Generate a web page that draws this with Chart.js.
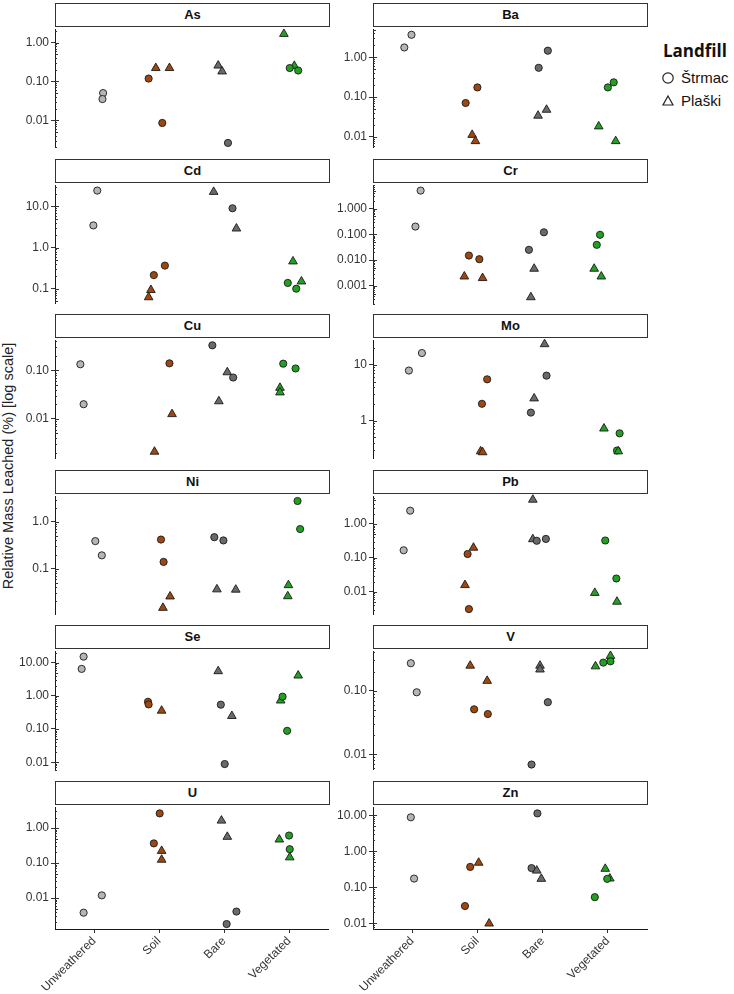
<!DOCTYPE html>
<html><head><meta charset="utf-8">
<script src="https://cdn.jsdelivr.net/npm/chart.js@4/dist/chart.umd.min.js"></script>
<style>
body{margin:0;background:#fff;width:734px;height:994px;position:relative;overflow:hidden;font-family:"Liberation Sans",Arial,sans-serif;}
.strip{position:absolute;box-sizing:border-box;border:1px solid #333;background:#fff;text-align:center;font-weight:bold;font-size:13px;color:#111;}
canvas{position:absolute;}
#ytitle{position:absolute;left:8px;top:466px;transform:translate(-50%,-50%) rotate(-90deg);white-space:nowrap;font-size:14.5px;color:#222;}
#legend{position:absolute;left:660px;top:41px;color:#111;}
</style></head><body>
<div id="ytitle">Relative Mass Leached (%) [log scale]</div>
<div id="legend">
 <div style="font-weight:bold;font-size:17px;margin-left:3px;font-family:'Open Sans',sans-serif;line-height:20px;">Landfill</div>
 <div style="display:flex;align-items:center;height:23px;margin-top:5px;font-size:15px;"><svg width="18" height="14"><circle cx="8" cy="7" r="5.2" fill="none" stroke="#222" stroke-width="1.2"/></svg><span style="margin-left:3px">Štrmac</span></div>
 <div style="display:flex;align-items:center;height:23px;font-size:15px;"><svg width="18" height="14"><polygon points="8,2 13,11 3,11" fill="none" stroke="#222" stroke-width="1.2"/></svg><span style="margin-left:3px">Plaški</span></div>
</div>
<script>
// ---------- data ----------
const groups = ['Unweathered','Soil','Bare','Vegetated'];
const landfills = ['Štrmac','Plaški'];
const elements = ['As','Ba','Cd','Cr','Cu','Mo','Ni','Pb','Se','V','U','Zn'];
// rows: [group index, landfill index (0 Štrmac, 1 Plaški), relative mass leached %, jitter]
const As = [[0,0,0.050,0.14],[0,0,0.035,0.13],[1,0,0.118,-0.16],[1,0,0.0085,0.05],[1,1,0.22,-0.05],[1,1,0.22,0.16],[2,1,0.255,-0.09],[2,1,0.18,-0.03],[2,0,0.0026,0.06],[3,1,1.66,-0.08],[3,1,0.25,0.08],[3,0,0.22,0.01],[3,0,0.19,0.14]];
const Ba = [[0,0,3.69,-0.01],[0,0,1.77,-0.12],[1,0,0.175,0.00],[1,0,0.071,-0.18],[1,1,0.0112,-0.08],[1,1,0.0078,-0.03],[2,0,1.47,0.08],[2,0,0.545,-0.06],[2,1,0.048,0.06],[2,1,0.034,-0.07],[3,0,0.235,0.09],[3,0,0.175,0.00],[3,1,0.0183,-0.14],[3,1,0.0078,0.12]];
const Cd = [[0,0,24.2,0.05],[0,0,3.45,-0.01],[1,0,0.364,0.09],[1,0,0.214,-0.08],[1,1,0.093,-0.125],[1,1,0.062,-0.16],[2,1,22.5,-0.16],[2,0,9.0,0.13],[2,1,2.9,0.19],[3,1,0.46,0.06],[3,0,0.138,-0.02],[3,0,0.10,0.11],[3,1,0.15,0.19]];
const Cr = [[0,0,5.0,0.13],[0,0,0.2,0.05],[1,0,0.015,-0.13],[1,0,0.0108,0.03],[1,1,0.0023,-0.20],[1,1,0.002,0.08],[2,0,0.12,0.02],[2,0,0.025,-0.21],[2,1,0.0046,-0.13],[2,1,0.00036,-0.18],[3,0,0.096,-0.12],[3,0,0.039,-0.17],[3,1,0.0046,-0.21],[3,1,0.0023,-0.10]];
const Cu = [[0,0,0.133,-0.21],[0,0,0.020,-0.16],[1,0,0.139,0.16],[1,1,0.0125,0.20],[1,1,0.0021,-0.07],[2,0,0.327,-0.18],[2,1,0.091,0.05],[2,0,0.071,0.14],[2,1,0.023,-0.08],[3,0,0.137,-0.09],[3,0,0.109,0.10],[3,1,0.0435,-0.14],[3,1,0.035,-0.14]];
const Mo = [[0,0,16.3,0.15],[0,0,7.9,-0.05],[1,0,5.5,0.15],[1,0,2.0,0.07],[1,1,0.28,0.05],[1,1,0.27,0.08],[2,1,23.5,0.03],[2,0,6.4,0.06],[2,1,2.5,-0.13],[2,0,1.39,-0.18],[3,1,0.72,-0.06],[3,0,0.59,0.18],[3,0,0.29,0.14],[3,1,0.28,0.16]];
const Ni = [[0,0,0.387,0.02],[0,0,0.192,0.12],[1,0,0.418,0.03],[1,0,0.139,0.07],[1,1,0.0254,0.17],[1,1,0.0145,0.06],[2,0,0.47,-0.15],[2,0,0.40,-0.01],[2,1,0.036,-0.11],[2,1,0.0355,0.18],[3,0,2.79,0.13],[3,0,0.70,0.17],[3,1,0.0443,-0.01],[3,1,0.0257,-0.02]];
const Pb = [[0,0,2.47,-0.03],[0,0,0.168,-0.13],[1,1,0.20,-0.06],[1,0,0.13,-0.15],[1,1,0.0158,-0.19],[1,0,0.0031,-0.13],[2,1,5.2,-0.15],[2,1,0.356,-0.15],[2,0,0.32,-0.09],[2,0,0.363,0.05],[3,0,0.326,-0.04],[3,0,0.0247,0.13],[3,1,0.0093,-0.20],[3,1,0.0051,0.14]];
const Se = [[0,0,15.1,-0.16],[0,0,6.45,-0.19],[1,0,0.66,-0.17],[1,0,0.55,-0.16],[1,1,0.356,0.04],[2,1,5.5,-0.09],[2,0,0.54,-0.05],[2,1,0.246,0.12],[2,0,0.0088,0.01],[3,1,4.07,0.14],[3,1,0.72,-0.13],[3,0,0.94,-0.10],[3,0,0.088,-0.03]];
const V = [[0,0,0.271,-0.02],[0,0,0.0946,0.07],[1,1,0.248,-0.11],[1,1,0.143,0.15],[1,0,0.051,-0.05],[1,0,0.043,0.16],[2,1,0.248,-0.04],[2,1,0.216,-0.04],[2,0,0.066,0.08],[2,0,0.0069,-0.17],[3,1,0.242,-0.19],[3,1,0.353,0.04],[3,0,0.277,-0.07],[3,0,0.29,0.04]];
const U = [[0,0,0.0119,0.12],[0,0,0.0038,-0.16],[1,0,2.62,0.01],[1,0,0.364,-0.08],[1,1,0.222,0.04],[1,1,0.124,0.04],[2,1,1.63,-0.04],[2,1,0.56,0.05],[2,0,0.0041,0.19],[2,0,0.0018,0.04],[3,1,0.47,-0.15],[3,1,0.145,0.01],[3,0,0.61,0.00],[3,0,0.248,0.01]];
const Zn = [[0,0,8.8,-0.02],[0,0,0.174,0.03],[1,1,0.48,0.02],[1,0,0.368,-0.11],[1,0,0.030,-0.19],[1,1,0.0098,0.18],[2,0,11.3,-0.08],[2,0,0.34,-0.17],[2,1,0.29,-0.09],[2,1,0.171,-0.02],[3,1,0.325,-0.04],[3,1,0.175,0.03],[3,0,0.171,-0.01],[3,0,0.053,-0.20]];
const panelData = [As,Ba,Cd,Cr,Cu,Mo,Ni,Pb,Se,V,U,Zn];
// y-axis limits and label decimals per panel (free scales)
const yMin = [0.00195,0.0053,0.043,0.0002,0.0015,0.206,0.0103,0.0021,0.0059,0.0057,0.0013,0.0069];
const yMax = [2.2,5.1,32.7,8.1,0.417,27.7,3.53,6.6,22,0.419,3.94,16.8];
const tickDecimals = [2,2,1,3,2,0,1,2,2,2,2,2];

// ---------- style / layout ----------
const groupColors = ['#b5b5b5','#a0470f','#6a6a6a','#22a022'];
const plotLeft = [55,373], plotW = 274, plotH = 125;
const plotTop0 = 26, rowPitch = 155.6, stripH = 23;
const canvasLeft = [0,332], canvasW = [334,330];
const padTop = 6, xAxisH = 62;

const minorTicks = {
  id:'minorTicks',
  afterDraw(chart){
    const s = chart.scales.y, ctx = chart.ctx, x0 = chart.chartArea.left;
    ctx.save(); ctx.strokeStyle='#333'; ctx.lineWidth=1;
    const d0 = Math.floor(Math.log10(s.min)), d1 = Math.ceil(Math.log10(s.max));
    for(let d=d0; d<=d1; d++){
      for(let k=1;k<=9;k++){
        const v = k*Math.pow(10,d);
        if(v < s.min || v > s.max) continue;
        const py = Math.round(s.getPixelForValue(v))+0.5;
        const len = k===1?4:(k===5?3:2);
        ctx.beginPath(); ctx.moveTo(x0, py); ctx.lineTo(x0+len, py); ctx.stroke();
      }
    }
    ctx.restore();
  }
};

elements.forEach((el, i) => {
  const r = Math.floor(i/2), c = i%2;
  const pTop = Math.round(plotTop0 + r*rowPitch);
  const bottomRow = r === 5;
  const st = document.createElement('div');
  st.className='strip';
  st.style.left = plotLeft[c]+'px'; st.style.top = (pTop-stripH)+'px';
  st.style.width = (plotW+1)+'px'; st.style.height = (stripH+1)+'px';
  st.style.lineHeight = (stripH-1)+'px';
  st.textContent = el;
  const cv = document.createElement('canvas');
  const cw = canvasW[c];
  const ch = padTop + plotH + (bottomRow ? xAxisH : padTop);
  cv.width = cw; cv.height = ch;
  cv.style.left = canvasLeft[c]+'px'; cv.style.top = (pTop - padTop)+'px';
  cv.style.width = cw+'px'; cv.style.height = ch+'px';
  document.body.appendChild(cv);
  document.body.appendChild(st);
  const yW = plotLeft[c] - canvasLeft[c];
  const padR = canvasLeft[c] + cw - (plotLeft[c] + plotW);
  const rows = panelData[i];
  const dec = tickDecimals[i];
  new Chart(cv, {
    type:'scatter',
    data:{datasets:[{
      data: rows.map(p => ({x: p[0]+1+p[3], y: p[2]})),
      pointStyle: rows.map(p => p[1]===0 ? 'circle' : 'triangle'),
      pointRadius: rows.map(p => p[1]===0 ? 3.6 : 5),
      backgroundColor: rows.map(p => groupColors[p[0]]),
      borderColor: '#1a1a1a', borderWidth: 0.9, clip: false
    }]},
    options:{
      responsive:false, animation:false, events:[],
      layout:{padding:{left:0,right:padR,top:padTop,bottom:bottomRow?0:padTop}},
      plugins:{legend:{display:false},tooltip:{enabled:false}},
      scales:{
        x:{type:'linear', min:0.4, max:4.6, display:bottomRow,
           afterBuildTicks: s => { s.ticks = [1,2,3,4].map(v => ({value:v})); },
           afterFit: s => { s.height = bottomRow ? xAxisH : 0; },
           ticks:{autoSkip:false, minRotation:45, maxRotation:45, padding:1, color:'#333',
                  font:{family:'"Liberation Sans", Arial, sans-serif', size:12},
                  callback: v => groups[Math.round(v)-1]},
           grid:{drawOnChartArea:false, drawTicks:true, tickLength:4, color:'#333'},
           border:{display:true, color:'#1a1a1a', width:1}},
        y:{type:'logarithmic', min:yMin[i], max:yMax[i],
           afterBuildTicks: s => {
             const t=[]; for(let d=Math.floor(Math.log10(s.min)); d<=Math.ceil(Math.log10(s.max)); d++){const v=Math.pow(10,d); if(v>=s.min*0.999 && v<=s.max*1.001) t.push({value:v});}
             s.ticks = t; },
           afterFit: s => { s.width = yW; },
           ticks:{padding:2, color:'#333', font:{family:'"Liberation Sans", Arial, sans-serif', size:12},
                  callback: v => Number(v).toFixed(dec)},
           grid:{drawOnChartArea:false, drawTicks:true, tickLength:4, color:'#333'},
           border:{display:true, color:'#1a1a1a', width:1}}
      }
    },
    plugins:[minorTicks]
  });
});
</script>
</body></html>
